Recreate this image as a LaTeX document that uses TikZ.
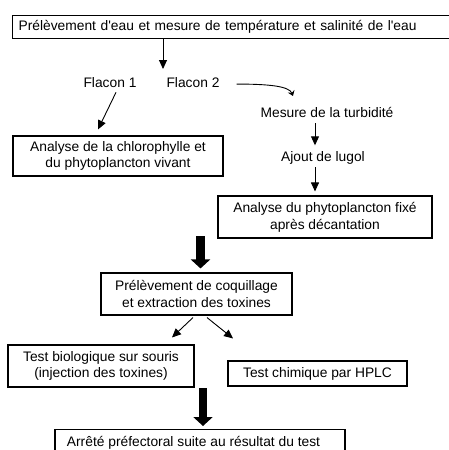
\documentclass[tikz,border=0pt]{standalone}
\usepackage{fontspec}
\setmainfont{Liberation Sans}[Ligatures=TeXOff]
\usetikzlibrary{arrows.meta}
\begin{document}
\begin{tikzpicture}[x=1pt,y=-1pt,
  every node/.style={font=\fontsize{13.8}{16.8}\selectfont, inner sep=0pt},
  box/.style={draw, line width=1.1pt, align=center},
  lbl/.style={anchor=base},
  thin/.style={line width=0.9pt, -{Triangle[width=8pt,length=9pt]}},
  curvy/.style={line width=0.9pt, -{Stealth[width=7pt,length=5pt]}},
  bigarrow/.style={line width=8.5pt, -{Triangle[width=19pt,length=9pt]}},
]
\useasboundingbox (0,0) rectangle (449,450);
\clip (0,0) rectangle (449,450);
\fill[white] (0,0) rectangle (449,450);

\node[box, anchor=north west, minimum width=440pt, minimum height=23pt, inner xsep=6pt, text width=428pt, align=left] (top) at (12,14.5) {Prélèvement d'eau et mesure de température et salinité de l'eau};

\node[lbl] (f1) at (110,87) {Flacon 1};
\node[lbl] (f2) at (193,87) {Flacon 2};
\coordinate (split) at (163,69);
\draw[thin] (top.south -| split) -- (split);

\node[box, minimum width=210pt, minimum height=40pt] (chl) at (118,156) {Analyse de la chlorophylle et\\du phytoplancton vivant};
\draw[thin] ([xshift=6pt,yshift=-5pt]f1.south) -- ([xshift=-20pt,yshift=6pt]chl.north);

\coordinate (turbtip) at (293,96);
\draw[curvy] ([xshift=17pt,yshift=-2pt]f2.east) .. controls +(31,0) and +(-4,-10) .. (turbtip);

\node[lbl] (turb) at (327,117.5) {Mesure de la turbidité};
\node[lbl] (lug) at (323,161.5) {Ajout de lugol};
\draw[thin] ([xshift=-12pt,yshift=-5.5pt]turb.south) -- ([xshift=-8pt,yshift=6pt]lug.north);

\node[box, minimum width=214pt, minimum height=42pt] (fix) at (325,217) {Analyse du phytoplancton fixé\\après décantation};
\draw[thin] ([xshift=-8pt,yshift=-2.6pt]lug.south) -- ([xshift=-10pt,yshift=4pt]fix.north);

\node[box, minimum width=191pt, minimum height=42pt] (coq) at (196.5,294) {Prélèvement de coquillage\\et extraction des toxines};
\draw[bigarrow] ([xshift=4pt,yshift=36pt]coq.north) -- ([xshift=4pt,yshift=4pt]coq.north);

\node[box, minimum width=186pt, minimum height=42pt] (bio) at (101,366) {Test biologique sur souris\\(injection des toxines)};
\node[box, minimum width=179pt, minimum height=25pt] (chim) at (317.5,373.5) {Test chimique par HPLC};
\draw[thin] ([xshift=-3.5pt,yshift=-2pt]coq.south) -- ([xshift=71pt,yshift=7pt]bio.north);
\draw[thin] ([xshift=10.5pt,yshift=-2pt]coq.south) -- ([xshift=-84.5pt,yshift=22pt]chim.north);

\node[box, anchor=north, minimum width=290pt, minimum height=41pt] (arr) at (200,429) {};
\node[lbl] (arrt) at (193.5,446.5) {Arrêté préfectoral suite au résultat du test};
\draw[bigarrow] ([xshift=3pt,yshift=41pt]arr.north) -- ([xshift=3pt,yshift=3pt]arr.north);
\end{tikzpicture}
\end{document}
